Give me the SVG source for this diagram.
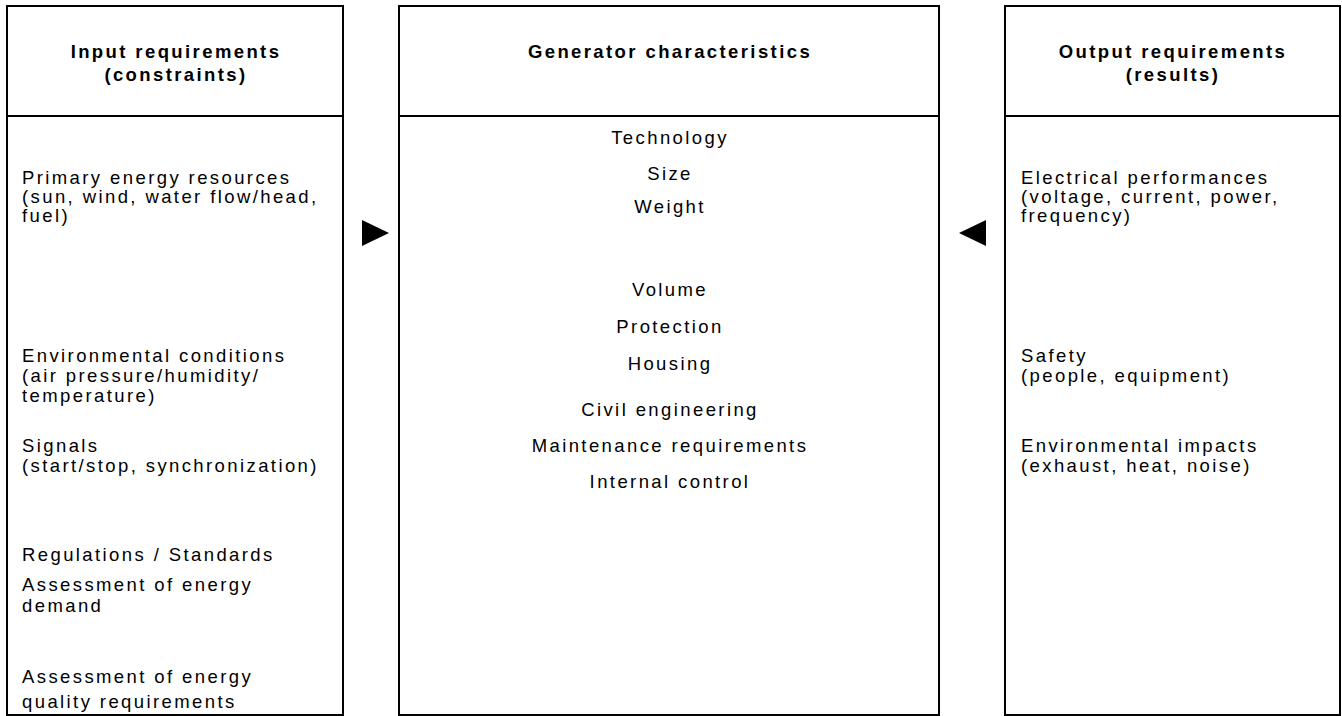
<svg xmlns="http://www.w3.org/2000/svg" width="1342" height="716" viewBox="0 0 1342 716">
<style>
.box{fill:#fff;stroke:#000;stroke-width:2}
.div{stroke:#000;stroke-width:2}
text{font-family:"Liberation Sans",Arial,sans-serif;font-size:18.5px;letter-spacing:2.4px;fill:#000}
.h{font-weight:bold;text-anchor:middle}
.c{text-anchor:middle}
.arr{fill:#000}
</style>
<rect width="1342" height="716" fill="#fff"/>
<g id="input">
<rect class="box" x="7" y="6" width="336" height="709"/>
<line class="div" x1="7" y1="116" x2="343" y2="116"/>
<text class="h" x="176" y="58">Input requirements</text>
<text class="h" x="176" y="81">(constraints)</text>
<text x="22" y="184">Primary energy resources</text>
<text x="22" y="203">(sun, wind, water flow/head,</text>
<text x="22" y="222">fuel)</text>
<text x="22" y="362">Environmental conditions</text>
<text x="22" y="382">(air pressure/humidity/</text>
<text x="22" y="402">temperature)</text>
<text x="22" y="452">Signals</text>
<text x="22" y="472">(start/stop, synchronization)</text>
<text x="22" y="561">Regulations / Standards</text>
<text x="22" y="591">Assessment of energy</text>
<text x="22" y="612">demand</text>
<text x="22" y="683">Assessment of energy</text>
<text x="22" y="708">quality requirements</text>
</g>
<g id="generator">
<rect class="box" x="399" y="6" width="540" height="709"/>
<line class="div" x1="399" y1="116" x2="939" y2="116"/>
<text class="h" x="670" y="58">Generator characteristics</text>
<text class="c" x="670" y="144">Technology</text>
<text class="c" x="670" y="180">Size</text>
<text class="c" x="670" y="213">Weight</text>
<text class="c" x="670" y="296">Volume</text>
<text class="c" x="670" y="333">Protection</text>
<text class="c" x="670" y="370">Housing</text>
<text class="c" x="670" y="416">Civil engineering</text>
<text class="c" x="670" y="452">Maintenance requirements</text>
<text class="c" x="670" y="488">Internal control</text>
</g>
<g id="output">
<rect class="box" x="1005" y="6" width="335" height="709"/>
<line class="div" x1="1005" y1="116" x2="1340" y2="116"/>
<text class="h" x="1173" y="58">Output requirements</text>
<text class="h" x="1173" y="81">(results)</text>
<text x="1021" y="184">Electrical performances</text>
<text x="1021" y="203">(voltage, current, power,</text>
<text x="1021" y="222">frequency)</text>
<text x="1021" y="362">Safety</text>
<text x="1021" y="382">(people, equipment)</text>
<text x="1021" y="452">Environmental impacts</text>
<text x="1021" y="472">(exhaust, heat, noise)</text>
</g>
<g id="connectors">
<polygon class="arr" points="362,220 389,233 362,246"/>
<polygon class="arr" points="986,220 959,233 986,246"/>
</g>
</svg>
